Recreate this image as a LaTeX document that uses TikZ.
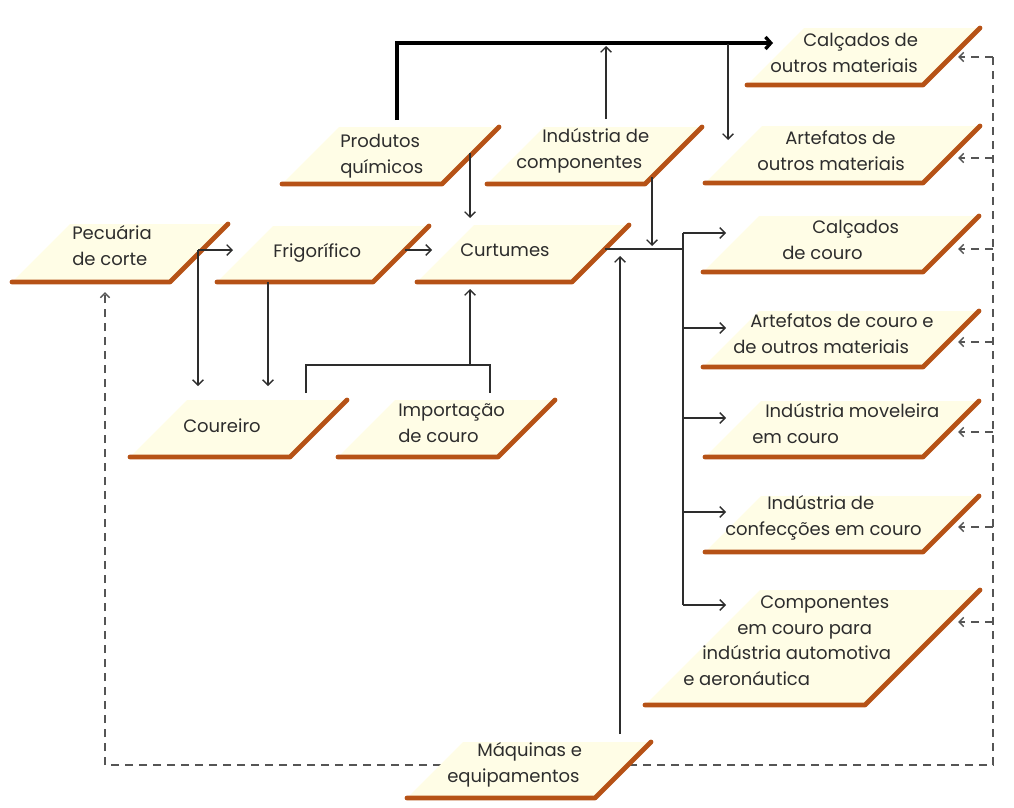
\documentclass[tikz,border=0pt]{standalone}
\usepackage{fontspec}
\setmainfont{Poppins}
\usetikzlibrary{arrows.meta}
\definecolor{boxfill}{RGB}{255,253,230}
\definecolor{boxbrown}{RGB}{182,82,22}
\definecolor{ink}{RGB}{45,45,45}
\definecolor{dashgray}{RGB}{85,85,85}
\tikzset{
  pfill/.style={fill=boxfill},
  pedge/.style={draw=boxbrown, line width=3.6pt, line cap=round, line join=round},
  lbl/.style={anchor=base west, inner sep=0pt, align=left, text=ink, font=\fontsize{13.5}{19.1}\selectfont},
  conn/.style={draw=ink, line width=1pt, -{Straight Barb[length=4pt,width=8pt]}},
  plainline/.style={draw=ink, line width=1pt},
  heavyconn/.style={draw=black, line width=2.5pt, line join=miter, -{Straight Barb[length=4pt,width=9pt]}},
  fb/.style={draw=dashgray, line width=1.1pt, dash pattern=on 6pt off 4.5pt},
  fbarrow/.style={fb, -{Straight Barb[length=3.5pt,width=7pt]}},
}
\newcommand{\pgram}[4]{% bottom-left x, bottom y, bottom length, height
  \fill[pfill] (#1,#2) -- ++(#3,0) -- ++(#4,-#4) -- ++(-#3,0) -- cycle;
  \draw[pedge] (#1,#2) -- ++(#3,0) -- ++(#4,-#4);
}
\begin{document}
\begin{tikzpicture}[x=0.75pt,y=-0.75pt]
\useasboundingbox (0,0) rectangle (1014,807);

% feedback dashed line (behind boxes)
\coordinate (fbTop) at (993,57);
\coordinate (fbCorner) at (993,765);
\coordinate (fbLeft) at (105,765);
\coordinate (pecIn) at (105,292);
\draw[fb, -{Straight Barb[length=3.5pt,width=7pt]}] (fbTop) -- (fbCorner) -- (fbLeft) -- (pecIn);

% boxes
\pgram{12}{282}{158}{58}
\pgram{217}{282}{156}{56}
\pgram{417}{282}{155}{57}
\pgram{282}{184}{160}{57}
\pgram{487}{184}{158}{57}
\pgram{747}{85}{176}{57}
\pgram{705}{183}{218}{57}
\pgram{703}{272}{220}{56}
\pgram{703}{367}{220}{56}
\pgram{705}{457}{218}{56}
\pgram{705}{552}{218}{56}
\pgram{645}{705}{220}{115}
\pgram{130}{457}{160}{57}
\pgram{338}{457}{160}{57}
\pgram{407}{798}{188}{56}

% labels (anchor = baseline of the last line)
\node[lbl] (pec) at (72,265) {Pecuária\\de corte};
\node[lbl] (frig) at (273,257) {Frigorífico};
\node[lbl] (curt) at (460,256) {Curtumes};
\node[lbl] (prod) at (340,173) {Produtos\\químicos};
\node[lbl] (ind) at (516,168) {\hspace*{19.5pt}Indústria de\\componentes};
\node[lbl] (calO) at (770,72) {\hspace*{24.75pt}Calçados de\\outros materiais};
\node[lbl] (artO) at (757,170) {\hspace*{21pt}Artefatos de\\outros materiais};
\node[lbl] (calC) at (782,259) {\hspace*{22.5pt}Calçados\\de couro};
\node[lbl] (artC) at (733,353) {\hspace*{12.75pt}Artefatos de couro e\\de outros materiais};
\node[lbl] (mov) at (752,443) {\hspace*{9.75pt}Indústria moveleira\\em couro};
\node[lbl] (conf) at (725,535) {\hspace*{31.5pt}Indústria de\\confecções em couro};
\node[lbl] (comp) at (683,685) {\hspace*{57.75pt}Componentes\\\hspace*{40.5pt}em couro para\\\hspace*{14.25pt}indústria automotiva\\e aeronáutica};
\node[lbl] (cour) at (183,432) {Coureiro};
\node[lbl] (imp) at (398,442) {Importação\\de couro};
\node[lbl] (maq) at (447,782) {\hspace*{22.5pt}Máquinas e\\equipamentos};

% feedback small arrows
\foreach \yy/\nm in {57/calO,158/artO,249/calC,342/artC,432/mov,527/conf,622/comp}{
  \coordinate (fbS\nm) at (993,\yy);
  \coordinate (fbE\nm) at (958,\yy);
  \draw[fbarrow] (fbS\nm) -- (fbE\nm);
}

% top connectors
\coordinate (prodTop) at (397,120);
\coordinate (topLeft) at (397,43);
\coordinate (calOin) at (773,43);
\draw[heavyconn] (prodTop) -- (topLeft) -- (calOin);
\coordinate (indTop) at (606,119);
\coordinate (topMid) at (606,46);
\draw[conn] (indTop) -- (topMid);
\coordinate (topBranch) at (728,44);
\coordinate (artOin) at (728,140);
\draw[conn] (topBranch) -- (artOin);

% into Curtumes
\coordinate (prodOut) at (470,153);
\coordinate (curtTop) at (470,218);
\draw[conn] (prodOut) -- (curtTop);
\coordinate (indOut) at (652,177);
\coordinate (curtJoin) at (652,246);
\draw[conn] (indOut) -- (curtJoin);

% Curtumes outputs
\coordinate (curtOut) at (605,249);
\coordinate (busJ) at (683,249);
\coordinate (busTop) at (683,233);
\coordinate (busBot) at (683,605);
\draw[plainline] (curtOut) -- (busJ);
\draw[plainline] (busTop) -- (busBot);
\foreach \yy/\nm in {233/calC,328/artC,418/mov,512/conf,605/comp}{
  \coordinate (busS\nm) at (683,\yy);
  \coordinate (busE\nm) at (726,\yy);
  \draw[conn] (busS\nm) -- (busE\nm);
}

% Maquinas to Curtumes
\coordinate (maqTop) at (620,734);
\coordinate (curtIn) at (620,256);
\draw[conn] (maqTop) -- (curtIn);

% Pecuaria / Frigorifico
\coordinate (pecOut) at (198,250);
\coordinate (frigIn) at (233,250);
\coordinate (courIn1) at (198,386);
\draw[conn] (pecOut) -- (frigIn);
\draw[conn] (pecOut) -- (courIn1);
\coordinate (frigOut) at (405,250);
\coordinate (curtInL) at (432,250);
\draw[conn] (frigOut) -- (curtInL);
\coordinate (frigBot) at (268,282);
\coordinate (courIn2) at (268,386);
\draw[conn] (frigBot) -- (courIn2);

% Coureiro / Importacao to Curtumes
\coordinate (courTop) at (306,393);
\coordinate (courUp) at (306,365);
\coordinate (impUp) at (490,365);
\coordinate (impTop) at (490,393);
\draw[plainline] (courTop) -- (courUp) -- (impUp) -- (impTop);
\coordinate (joinUp) at (470,365);
\coordinate (curtBot) at (470,289);
\draw[conn] (joinUp) -- (curtBot);
\end{tikzpicture}
\end{document}
